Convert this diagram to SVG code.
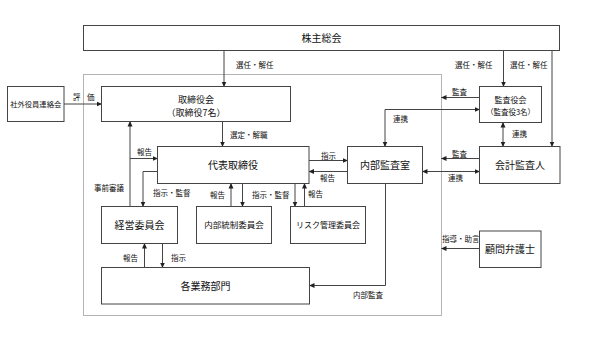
<svg xmlns="http://www.w3.org/2000/svg" width="598" height="341" viewBox="0 0 598 341">
<style>
.box{fill:#fff;stroke:#444;stroke-width:1}
.frame{fill:none;stroke:#b4b4b4;stroke-width:1}
.ln{fill:none;stroke:#444;stroke-width:1}
.t{font-family:"Noto Sans CJK JP","Noto Sans",sans-serif;fill:#111;text-anchor:middle}
.lb{font-family:"Noto Sans CJK JP","Noto Sans",sans-serif;fill:#111;font-size:7.5px}
</style>
<defs>
<marker id="ah" markerUnits="userSpaceOnUse" markerWidth="6" markerHeight="6" refX="5" refY="3" orient="auto-start-reverse" viewBox="0 0 6 6">
<path d="M0,0.5 L5.5,3 L0,5.5 Z" fill="#222"/>
</marker>
</defs>
<rect class="frame" x="83.5" y="74.5" width="358" height="241"/>
<g id="connectors">
<path class="ln" d="M224,50.5 V86.5" marker-end="url(#ah)"/>
<path class="ln" d="M503.5,50.5 V86.5" marker-end="url(#ah)"/>
<path class="ln" d="M552,50.5 V146.5" marker-end="url(#ah)"/>
<path class="ln" d="M64,104 H101.5" marker-end="url(#ah)"/>
<path class="ln" d="M222.5,121.5 V146.5" marker-end="url(#ah)"/>
<path class="ln" d="M130,206.5 V121.5" marker-end="url(#ah)"/>
<path class="ln" d="M130,158.5 H157.5" marker-end="url(#ah)"/>
<path class="ln" d="M157.5,171.5 H143 V206.5" marker-end="url(#ah)"/>
<path class="ln" d="M231,206.5 V183.5" marker-end="url(#ah)"/>
<path class="ln" d="M242.5,183.5 V206.5" marker-end="url(#ah)"/>
<path class="ln" d="M295,183.5 V206.5" marker-end="url(#ah)"/>
<path class="ln" d="M304.5,206.5 V183.5" marker-end="url(#ah)"/>
<path class="ln" d="M144.5,267.5 V243.5" marker-end="url(#ah)"/>
<path class="ln" d="M162.5,243.5 V267.5" marker-end="url(#ah)"/>
<path class="ln" d="M309,160.5 H347.5" marker-end="url(#ah)"/>
<path class="ln" d="M347.5,171.5 H309" marker-end="url(#ah)"/>
<path class="ln" d="M385.5,183.5 V285.5 H309.5" marker-end="url(#ah)"/>
<path class="ln" d="M422.5,171.5 H479.5" marker-start="url(#ah)" marker-end="url(#ah)"/>
<path class="ln" d="M479.5,158.5 H441.5" marker-end="url(#ah)"/>
<path class="ln" d="M479.5,97.5 H441.5" marker-end="url(#ah)"/>
<path class="ln" d="M385,146.5 V109.5 H479.5" marker-start="url(#ah)" marker-end="url(#ah)"/>
<path class="ln" d="M503,122.5 V146.5" marker-start="url(#ah)" marker-end="url(#ah)"/>
<path class="ln" d="M479.5,248.5 H441.5" marker-end="url(#ah)"/>
</g>
<g id="labels">
<text class="lb" x="236" y="67.5">選任・解任</text>
<text class="lb" x="455" y="67.5">選任・解任</text>
<text class="lb" x="510" y="67.5">選任・解任</text>
<text class="lb" x="73" y="99.5" font-size="8">評</text>
<text class="lb" x="87" y="99.5" font-size="8">価</text>
<text class="lb" x="230" y="137.5">選定・解職</text>
<text class="lb" x="137" y="154.5">報告</text>
<text class="lb" x="94" y="191">事前審議</text>
<text class="lb" x="153" y="195.5">指示・監督</text>
<text class="lb" x="210" y="197.5">報告</text>
<text class="lb" x="252" y="197.5">指示・監督</text>
<text class="lb" x="308" y="196.5">報告</text>
<text class="lb" x="123" y="260.5">報告</text>
<text class="lb" x="171" y="260.5">指示</text>
<text class="lb" x="321" y="159">指示</text>
<text class="lb" x="320" y="180.5">報告</text>
<text class="lb" x="353" y="297.5">内部監査</text>
<text class="lb" x="448" y="180.5">連携</text>
<text class="lb" x="452" y="156.5">監査</text>
<text class="lb" x="452" y="94.5">監査</text>
<text class="lb" x="442" y="242" font-size="7">指導・助言</text>
<text class="lb" x="393" y="122">連携</text>
<text class="lb" x="512" y="136.5">連携</text>
</g>
<g id="n-shareholders"><rect class="box" x="83.5" y="25.5" width="476" height="25"/><text class="t" x="321.5" y="41.5" font-size="10">株主総会</text></g>
<g id="n-outside"><rect class="box" x="7.5" y="86.5" width="56.5" height="35"/><text class="t" x="35.7" y="106.5" font-size="7.3">社外役員連絡会</text></g>
<g id="n-board"><rect class="box" x="101.5" y="86.5" width="189" height="35"/><text class="t" x="196" y="102.5" font-size="9">取締役会</text><text class="t" x="196" y="115.5" font-size="9">（取締役7名）</text></g>
<g id="n-ceo"><rect class="box" x="157.5" y="146.5" width="151.5" height="37"/><text class="t" x="233" y="168.5" font-size="10">代表取締役</text></g>
<g id="n-mgmt"><rect class="box" x="101.5" y="206.5" width="76" height="37"/><text class="t" x="139.5" y="228.5" font-size="10">経営委員会</text></g>
<g id="n-ic"><rect class="box" x="196.5" y="206.5" width="75" height="37"/><text class="t" x="234" y="228" font-size="8.5">内部統制委員会</text></g>
<g id="n-risk"><rect class="box" x="290.5" y="206.5" width="75" height="37"/><text class="t" x="328" y="228" font-size="8">リスク管理委員会</text></g>
<g id="n-depts"><rect class="box" x="101.5" y="267.5" width="208" height="36.5"/><text class="t" x="205.5" y="289.5" font-size="10">各業務部門</text></g>
<g id="n-audit"><rect class="box" x="347.5" y="146.5" width="75" height="37"/><text class="t" x="385" y="168.5" font-size="10">内部監査室</text></g>
<g id="n-kansayaku"><rect class="box" x="479.5" y="86.5" width="62" height="36"/><text class="t" x="510.5" y="103" font-size="8">監査役会</text><text class="t" x="510.5" y="115" font-size="7.5">（監査役3名）</text></g>
<g id="n-accountant"><rect class="box" x="479.5" y="146.5" width="80.5" height="37"/><text class="t" x="520" y="168.5" font-size="10">会計監査人</text></g>
<g id="n-lawyer"><rect class="box" x="479.5" y="231" width="61.5" height="36.5"/><text class="t" x="510" y="252.5" font-size="10">顧問弁護士</text></g>
</svg>
